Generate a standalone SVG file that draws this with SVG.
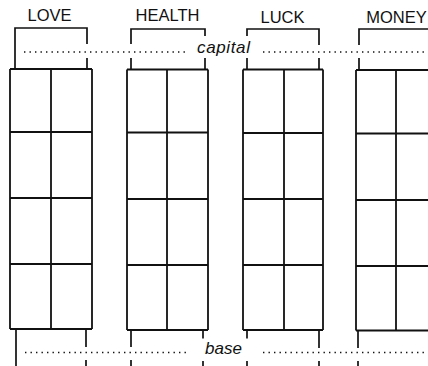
<svg xmlns="http://www.w3.org/2000/svg" width="428" height="366" viewBox="0 0 428 366">
<style>
.ln{stroke:#111;stroke-width:1.8;fill:none;stroke-linecap:butt}
.tk{stroke:#111;stroke-width:1.7;fill:none}
.dot{stroke:#111;stroke-width:1.5;stroke-dasharray:1.4 4.1;fill:none}
.lbl{font-family:"Liberation Sans",Arial,sans-serif;font-size:16.5px;fill:#111;text-anchor:middle}
.it{font-family:"Liberation Sans",Arial,sans-serif;font-size:17px;font-style:italic;fill:#111}
</style>
<rect width="428" height="366" fill="#fff"/>
<g id="love">
<text class="lbl" x="49.5" y="21.3">LOVE</text>
<path class="tk" d="M15,69 V28 H87 V44 M87,58 V69"/>
<path class="ln" d="M10,69 H92 M10,132 H92 M10,198 H92 M10,264 H92 M10,329 H92 M10,69 V329 M51,69 V329 M92,69 V329"/>
<path class="tk" d="M16,329 V366 M86,329 V347 M86,360 V366"/>
</g>
<g id="health">
<text class="lbl" x="167.5" y="21.3">HEALTH</text>
<path class="tk" d="M131,44 V29 H205 V36 M131,58 V69.5 M205,58 V69.5"/>
<path class="ln" d="M127,69.5 H208 M127,132.5 H208 M127,199 H208 M127,265 H208 M127,330 H208 M127,69.5 V330 M167,69.5 V330 M208,69.5 V330"/>
<path class="tk" d="M131,330 V347 M131,360 V366 M203,330 V338.5 M203,361 V366"/>
</g>
<g id="luck">
<text class="lbl" x="282.5" y="23">LUCK</text>
<path class="tk" d="M247,36 V29 H319 V45 M247,58 V69.5 M319,58 V69.5"/>
<path class="ln" d="M243,69.5 H323 M243,133 H323 M243,199 H323 M243,265 H323 M243,330 H323 M243,69.5 V330 M284,69.5 V330 M323,69.5 V330"/>
<path class="tk" d="M247,330 V338.5 M247,361 V366 M319,330 V348 M319,361 V366"/>
</g>
<g id="money">
<text class="lbl" x="396.5" y="23.3">MONEY</text>
<path class="tk" d="M359,45 V29 H430 M359,58 V70"/>
<path class="ln" d="M356,70 H430 M356,133.5 H430 M356,200 H430 M356,266 H430 M356,330.5 H430 M356,70 V330.5 M396,70 V330.5"/>
<path class="tk" d="M358,330.5 V348 M358,361 V366"/>
</g>
<g id="connectors">
<path class="dot" d="M24,52 H186 M263,52 H430"/>
<text class="it" x="197" y="53" textLength="53">capital</text>
<path class="dot" d="M25,352.5 H186 M263,352.5 H430"/>
<text class="it" x="205" y="354" textLength="37">base</text>
</g>
</svg>
